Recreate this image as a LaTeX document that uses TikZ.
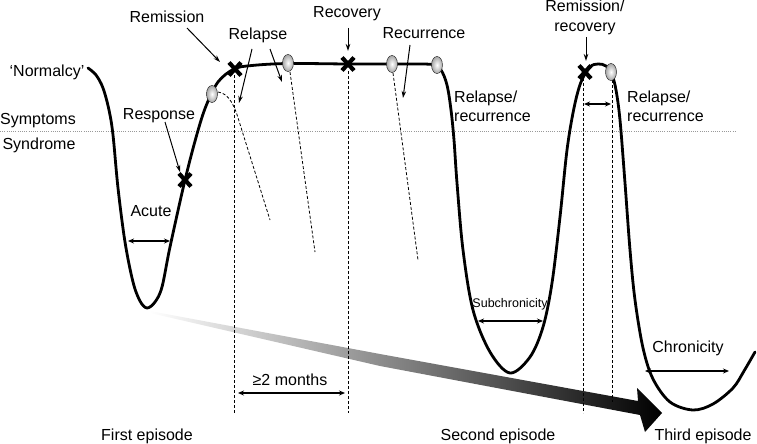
\documentclass[tikz,border=0pt]{standalone}
\usepackage{fontspec}
\setmainfont{Liberation Sans}
\usetikzlibrary{arrows.meta,calc}
\begin{document}
\begin{tikzpicture}[x=1pt,y=-1pt,
  lbl/.style={inner sep=0pt, anchor=base, font=\fontsize{16}{19}\selectfont},
  lblw/.style={lbl, anchor=base west},
  smalllbl/.style={lbl, font=\fontsize{12.5}{15}\selectfont},
  curve/.style={line width=2.8pt, line join=round, line cap=round},
  pointer/.style={line width=1pt, -{Stealth[length=7pt,width=4.5pt]}},
  span/.style={line width=1.1pt, {Stealth[length=6pt,width=5pt]}-{Stealth[length=6pt,width=5pt]}},
  guide/.style={line width=0.8pt, dash pattern=on 3pt off 2pt},
  relapseline/.style={line width=0.8pt, dash pattern=on 3pt off 2pt},
  xmark/.style={line width=4.2pt},
  ball/.style={inner color=white, outer color=gray!70, draw=gray!35!black, line width=0.5pt},
  threshold/.style={gray!80, line width=1pt, dash pattern=on 1pt off 1.2pt}
]
\useasboundingbox (0,0) rectangle (757,444);

% threshold line
\coordinate (thl) at (0,131);
\coordinate (thr) at (735,131);
\draw[threshold] (thl) -- (thr);

% shaded time arrow
\shade[left color=white, right color=black]
  (150,311) -- (380,354) -- (638,401) -- (637,388) -- (662,413) -- (645,432)
  -- (640,415) -- (380,366) -- (150,313) -- cycle;

% vertical guides
\coordinate (g1t) at (234,75);  \coordinate (g1b) at (234,413);
\coordinate (g2t) at (348,71);  \coordinate (g2b) at (348,413);
\coordinate (g3t) at (583,78);  \coordinate (g3b) at (583,413);
\coordinate (g4t) at (612,80);  \coordinate (g4b) at (612,402);
\draw[guide] (g1t) -- (g1b);
\draw[guide] (g2t) -- (g2b);
\draw[guide] (g3t) -- (g3b);
\draw[guide] (g4t) -- (g4b);

% relapse trajectories
\coordinate (r1s) at (218,92);  \coordinate (r1e) at (270,220);
\coordinate (r2s) at (290,72);  \coordinate (r2e) at (315,252);
\coordinate (r3s) at (393,73);  \coordinate (r3e) at (418,260);
\draw[relapseline] (r1s) .. controls (229,93) and (235,107) .. (239,121) -- (r1e);
\draw[relapseline] (r2s) -- (r2e);
\draw[relapseline] (r3s) -- (r3e);

% main course
\draw[curve] plot[smooth, tension=0.55] coordinates {
  (88,68) (96,75) (103,88) (109,110) (113,135) (118,188) (125,242) (133,282)
  (140,301) (147,308) (155,302) (162,287) (170,247) (185,180) (197,134)
  (206,106) (218,82) (234,69) (252,65.5) (288,63.5) (348,64) (392,64) (433,64.5)
  (441,70) (447,85) (451,110) (454,140) (457,183) (463,250) (473,310) (490,352)
  (510,373) (530,357) (543,327) (552,283) (560,217) (567,150) (574,108)
  (581,82) (590,67) (598,64) (606,66) (612,75) (616,90) (620,120) (625,183)
  (630,250) (635,300) (643,348) (653,379) (670,402) (693,410) (713,404)
  (733,388) (744,371) (755,352)};

% balls
\shadedraw[ball] (212,94) ellipse (5.5 and 8.5);
\shadedraw[ball] (288,63) ellipse (5.5 and 8.5);
\shadedraw[ball] (392,64) ellipse (5.5 and 8.5);
\shadedraw[ball] (437,65) ellipse (5.5 and 8.5);
\shadedraw[ball] (611,72) ellipse (5.5 and 8.5);

% x marks
\coordinate (xresp) at (185,180);
\coordinate (xrem) at (235,69);
\coordinate (xrec) at (348,64);
\coordinate (xrr) at (585,72);
\foreach \p in {xresp,xrem,xrec,xrr}{
  \draw[xmark] ($(\p)+(-6,-6.5)$) -- ($(\p)+(6,6.5)$);
  \draw[xmark] ($(\p)+(-6,6.5)$) -- ($(\p)+(6,-6.5)$);
}

% labels
\node[lbl] (normalcy) at (47,76) {‘Normalcy’};
\node[lbl] (symptoms) at (38,124) {Symptoms};
\node[lbl] (syndrome) at (39,149) {Syndrome};
\node[lbl] (remission) at (167,23) {Remission};
\node[lbl] (relapse) at (258,40) {Relapse};
\node[lbl] (recovery) at (347,18) {Recovery};
\node[lbl] (recurrence) at (424,38) {Recurrence};
\node[lblw] (rra) at (454,102) {Relapse/};
\node[lblw] (rrb) at (454,121) {recurrence};
\node[lbl] (remreca) at (585,12) {Remission/};
\node[lbl] (remrecb) at (585,32) {recovery};
\node[lblw] (rrc) at (627,102) {Relapse/};
\node[lblw] (rrd) at (627,121) {recurrence};
\node[lbl] (response) at (159,119) {Response};
\node[lbl] (acute) at (151,216) {Acute};
\node[smalllbl] (subchron) at (510,307) {Subchronicity};
\node[lbl] (chron) at (688,352) {Chronicity};
\node[lbl] (months) at (290,385) {≥2 months};
\node[lbl] (first) at (147,440) {First episode};
\node[lbl] (second) at (498,440) {Second episode};
\node[lbl] (third) at (703,440) {Third episode};

% pointers
\coordinate (p1s) at (187,28);  \coordinate (p1e) at (220,62);
\coordinate (p2s) at (252,49);  \coordinate (p2e) at (239,103);
\coordinate (p3s) at (270,49);  \coordinate (p3e) at (282,82);
\coordinate (p4s) at (348,28);  \coordinate (p4e) at (348,51);
\coordinate (p5s) at (410,45);  \coordinate (p5e) at (403,98);
\coordinate (p6s) at (586,37);  \coordinate (p6e) at (586,61);
\coordinate (p7s) at (165,122); \coordinate (p7e) at (180,172);
\draw[pointer] (p1s) -- (p1e);
\draw[pointer] (p2s) -- (p2e);
\draw[pointer] (p3s) -- (p3e);
\draw[pointer] (p4s) -- (p4e);
\draw[pointer] (p5s) -- (p5e);
\draw[pointer] (p6s) -- (p6e);
\draw[pointer] (p7s) -- (p7e);

% spans
\coordinate (s1a) at (128,241); \coordinate (s1b) at (170,241);
\coordinate (s2a) at (478,321); \coordinate (s2b) at (543,321);
\coordinate (s3a) at (645,371); \coordinate (s3b) at (729,371);
\coordinate (s4a) at (238,393); \coordinate (s4b) at (345,393);
\coordinate (s5a) at (584,104); \coordinate (s5b) at (611,104);
\draw[span] (s1a) -- (s1b);
\draw[span] (s2a) -- (s2b);
\draw[span] (s3a) -- (s3b);
\draw[span] (s4a) -- (s4b);
\draw[span] (s5a) -- (s5b);
\end{tikzpicture}
\end{document}
